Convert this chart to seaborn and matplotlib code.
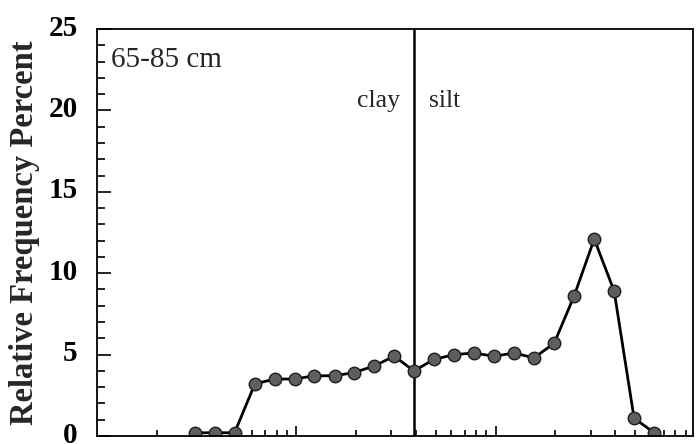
import matplotlib
matplotlib.use("Agg")
import matplotlib.pyplot as plt
import matplotlib.ticker as mticker
import matplotlib.transforms as mtransforms
import numpy as np
import pandas as pd
import seaborn as sns

# Grain size (micrometres, 1/3-phi classes) and relative frequency (%)
grain_size_um = [0.31, 0.39, 0.49, 0.62, 0.78, 0.98, 1.23, 1.56, 1.95, 2.46,
                 3.1, 3.9, 4.9, 6.2, 7.8, 9.8, 12.4, 15.6, 19.7, 24.8,
                 31.3, 39.4, 49.6, 62.5]
frequency_pct = [0.2, 0.2, 0.2, 3.2, 3.5, 3.5, 3.7, 3.7, 3.9, 4.3,
                 4.9, 4.0, 4.7, 5.0, 5.1, 4.9, 5.1, 4.8, 5.7, 8.6,
                 12.1, 8.9, 1.1, 0.2]
y_ticks = [0, 5, 10, 15, 20, 25]
clay_silt_boundary = 3.9
depth_label = "65-85 cm"

df = pd.DataFrame({"size": grain_size_um, "freq": frequency_pct})

sns.set_style("ticks")
plt.rcParams["font.family"] = ["Liberation Serif", "DejaVu Serif"]

fig = plt.figure(figsize=(7.0, 4.44), dpi=100)
ax = fig.add_axes([0.1386, 0.018, 0.8514, 0.9166])

sns.lineplot(data=df, x="size", y="freq", ax=ax, color="black", linewidth=2.0,
             marker="o", markersize=9, markerfacecolor="#5e5e5e",
             markeredgecolor="#1e1e1e", markeredgewidth=1.0)

ax.set_xscale("log")
ax.set_xlim(0.1, 98)
ax.set_ylim(0, 25)

ax.axvline(clay_silt_boundary, color="black", linewidth=1.8, zorder=1)

# ticks: inward, labelled only on the y axis
ax.xaxis.set_major_locator(mticker.FixedLocator([1, 10]))
ax.xaxis.set_minor_locator(mticker.LogLocator(base=10, subs=np.arange(2, 10)))
ax.xaxis.set_major_formatter(mticker.NullFormatter())
ax.xaxis.set_minor_formatter(mticker.NullFormatter())
ax.set_yticks(y_ticks)
ax.yaxis.set_minor_locator(mticker.MultipleLocator(1))
ax.tick_params(axis="both", which="both", direction="in", top=False, right=False,
               colors="black")
ax.tick_params(axis="x", which="major", length=7, width=1.2)
ax.tick_params(axis="x", which="minor", length=4, width=1.2)
ax.tick_params(axis="y", which="major", length=10, width=1.2, pad=14)
ax.tick_params(axis="y", which="minor", length=6, width=1.2)
shift_up = mtransforms.ScaledTranslation(0, 4 / 100, fig.dpi_scale_trans)
for lbl in ax.get_yticklabels():
    lbl.set_fontweight("bold")
    lbl.set_fontsize(21)
    lbl.set_transform(lbl.get_transform() + shift_up)

for side in ["left", "right", "top", "bottom"]:
    ax.spines[side].set_visible(True)
    ax.spines[side].set_linewidth(1.3)
    ax.spines[side].set_color("black")

ax.set_xlabel("")
ax.set_ylabel("Relative Frequency Percent", fontsize=23.5, fontweight="bold",
              labelpad=6)

ax.text(0.118, 23.1, depth_label, fontsize=21, va="center", ha="left")
ax.text(3.3, 20.6, "clay", fontsize=18.5, va="center", ha="right")
ax.text(4.65, 20.6, "silt", fontsize=18.5, va="center", ha="left")

fig.savefig("out.png", dpi=100)
